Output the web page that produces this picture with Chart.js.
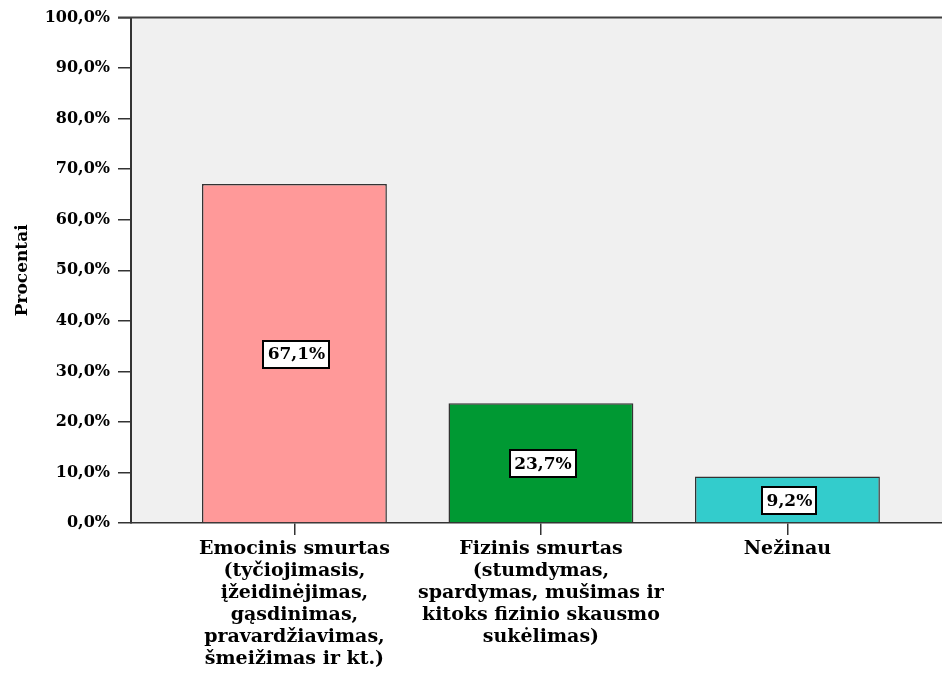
<!DOCTYPE html>
<html>
<head>
<meta charset="utf-8">
<script src="https://cdn.jsdelivr.net/npm/chart.js@4/dist/chart.umd.min.js"></script>
<style>
  html, body { margin: 0; padding: 0; background: #ffffff; overflow: hidden; }
  #wrap { width: 942px; height: 680px; position: relative; }
</style>
</head>
<body>
<div id="wrap"><canvas id="c" width="942" height="680"></canvas></div>
<script>
const categories = [
  ["Emocinis smurtas", "(tyčiojimasis,", "įžeidinėjimas,", "gąsdinimas,", "pravardžiavimas,", "šmeižimas ir kt.)"],
  ["Fizinis smurtas", "(stumdymas,", "spardymas, mušimas ir", "kitoks fizinio skausmo", "sukėlimas)"],
  ["Nežinau"]
];
const percentages = [67.1, 23.7, 9.2];
const valueLabels = ["67,1%", "23,7%", "9,2%"];
const barColors = ["#FF9999", "#009933", "#33CCCC"];
const yTickValues = [0, 10, 20, 30, 40, 50, 60, 70, 80, 90, 100];
const yAxisTitle = "Procentai";

const SERIF = "'DejaVu Serif', 'Liberation Serif', serif";

const bgPlugin = {
  id: 'bgPlugin',
  beforeDraw(chart) {
    const { ctx, chartArea } = chart;
    ctx.save();
    ctx.fillStyle = '#ffffff';
    ctx.fillRect(0, 0, chart.width, chart.height);
    ctx.fillStyle = '#F0F0F0';
    ctx.fillRect(chartArea.left, chartArea.top, chartArea.right - chartArea.left, chartArea.bottom - chartArea.top);
    ctx.restore();
  },
  afterDraw(chart) {
    const { ctx, chartArea } = chart;
    ctx.save();
    ctx.strokeStyle = '#404040';
    ctx.lineWidth = 2;
    ctx.beginPath();
    ctx.moveTo(chartArea.left - 13, chartArea.top);
    ctx.lineTo(chartArea.right, chartArea.top);
    ctx.stroke();
    ctx.restore();
  }
};

const boxLabelPlugin = {
  id: 'boxLabelPlugin',
  afterDatasetsDraw(chart) {
    const { ctx } = chart;
    const meta = chart.getDatasetMeta(0);
    ctx.save();
    ctx.font = "bold 17px " + SERIF;
    ctx.textAlign = 'center';
    ctx.textBaseline = 'middle';
    meta.data.forEach((bar, i) => {
      const txt = valueLabels[i];
      const cx = bar.x + 2;
      const cy = (bar.y + bar.base) / 2 + 1;
      const w = Math.round(ctx.measureText(txt).width + 8);
      const h = 27;
      const x0 = Math.round(cx - w / 2), y0 = Math.round(cy - h / 2);
      ctx.fillStyle = '#ffffff';
      ctx.fillRect(x0, y0, w, h);
      ctx.strokeStyle = '#000000';
      ctx.lineWidth = 2;
      ctx.strokeRect(x0, y0, w, h);
      ctx.fillStyle = '#000000';
      ctx.fillText(txt, cx, cy + 1);
    });
    ctx.restore();
  }
};

new Chart(document.getElementById('c'), {
  type: 'bar',
  data: {
    datasets: [{
      data: percentages.map((v, i) => ({ x: i, y: v })),
      backgroundColor: barColors,
      borderColor: '#333333',
      borderWidth: 1.5,
      barPercentage: 0.75,
      categoryPercentage: 1.0
    }]
  },
  options: {
    responsive: false,
    animation: false,
    layout: { padding: { top: 17, left: 12, right: 0, bottom: 0 } },
    plugins: { legend: { display: false }, tooltip: { enabled: false } },
    scales: {
      x: {
        type: 'linear',
        offset: false,
        min: -0.663,
        max: 2.627,
        afterBuildTicks(scale) { scale.ticks = [0, 1, 2].map(v => ({ value: v })); },
        afterFit(scale) { scale.height = 157; },
        ticks: {
          autoSkip: false,
          maxRotation: 0,
          minRotation: 0,
          color: '#000000',
          padding: 3,
          font: { family: SERIF, size: 19, weight: 'bold', lineHeight: 1.16 },
          callback: (v) => categories[v] || ''
        },
        grid: { offset: false, drawOnChartArea: false, drawTicks: true, tickLength: 12, color: '#333333', lineWidth: 1.5 },
        border: { display: true, color: '#333333', width: 1.5 }
      },
      y: {
        min: 0,
        max: 100,
        afterBuildTicks(scale) { scale.ticks = yTickValues.map(v => ({ value: v })); },
        afterFit(scale) { scale.width = 119; },
        title: {
          display: true,
          text: yAxisTitle,
          color: '#000000',
          font: { family: SERIF, size: 17, weight: 'bold' },
          padding: { top: 0, bottom: 0 }
        },
        ticks: {
          color: '#000000',
          padding: 8,
          font: { family: SERIF, size: 16, weight: 'bold' },
          callback: (v) => v.toFixed(1).replace('.', ',') + '%'
        },
        grid: { drawOnChartArea: false, drawTicks: true, tickLength: 13, color: '#333333', lineWidth: 1.5 },
        border: { display: true, color: '#333333', width: 2 }
      }
    }
  },
  plugins: [bgPlugin, boxLabelPlugin]
});
</script>
</body>
</html>
